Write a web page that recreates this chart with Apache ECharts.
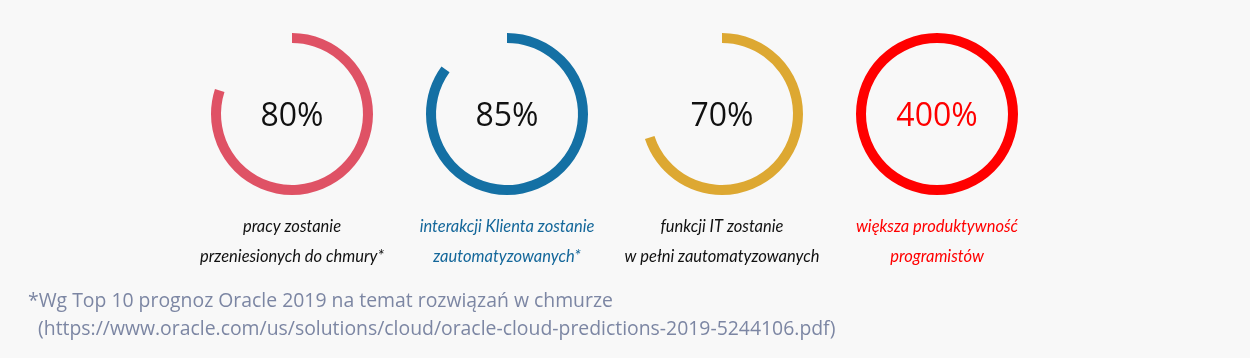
<!DOCTYPE html>
<html>
<head>
<meta charset="utf-8">
<script src="https://cdn.jsdelivr.net/npm/echarts@6/dist/echarts.min.js"></script>
<style>
html,body{margin:0;padding:0;background:#f8f8f8;}
#c{width:1250px;height:358px;}
</style>
</head>
<body>
<div id="c"></div>
<script>
const values = [80, 85, 70, 400];
const valueLabels = ['80%', '85%', '70%', '400%'];
const captionsLine1 = ['pracy zostanie', 'interakcji Klienta zostanie', 'funkcji IT zostanie', 'większa produktywność'];
const captionsLine2 = ['przeniesionych do chmury*', 'zautomatyzowanych*', 'w pełni zautomatyzowanych', 'programistów'];
const ringColors = ['#df5265', '#1470a4', '#dda832', '#ff0000'];
const valueColors = ['#111111', '#111111', '#111111', '#ff0000'];
const captionColors = ['#111111', '#14679a', '#111111', '#ff0000'];
const footnote1 = '*Wg Top 10 prognoz Oracle 2019 na temat rozwiązań w chmurze';
const footnote2 = '  (https://www.oracle.com/us/solutions/cloud/oracle-cloud-predictions-2019-5244106.pdf)';

const centersX = [292, 507, 722, 937];
const centerY = 114;

const chart = echarts.init(document.getElementById('c'), null, {renderer: 'canvas'});
const series = [];
const titles = [];
values.forEach((v, i) => {
  series.push({
    type: 'pie',
    radius: [71, 81],
    center: [centersX[i], centerY],
    startAngle: 90,
    clockwise: true,
    silent: true,
    label: {show: false},
    labelLine: {show: false},
    data: [
      {value: Math.min(v, 100), itemStyle: {color: ringColors[i]}},
      {value: Math.max(0, 100 - v), itemStyle: {color: 'rgba(0,0,0,0)'}}
    ]
  });
  titles.push({
    text: valueLabels[i],
    left: centersX[i],
    top: centerY + 3,
    padding: 0,
    textAlign: 'center',
    textVerticalAlign: 'middle',
    textStyle: {fontFamily: 'Open Sans', fontSize: 32, fontWeight: 'normal', color: valueColors[i]}
  });
  titles.push({
    text: captionsLine1[i],
    left: centersX[i],
    top: 227,
    padding: 0,
    textAlign: 'center',
    textVerticalAlign: 'middle',
    textStyle: {fontFamily: 'Lato', fontStyle: 'italic', fontSize: 16.5, fontWeight: 'normal', color: captionColors[i]}
  });
  titles.push({
    text: captionsLine2[i],
    left: centersX[i],
    top: 257,
    padding: 0,
    textAlign: 'center',
    textVerticalAlign: 'middle',
    textStyle: {fontFamily: 'Lato', fontStyle: 'italic', fontSize: 16.5, fontWeight: 'normal', color: captionColors[i]}
  });
});
titles.push({
  text: footnote1,
  left: 28,
  top: 301,
  padding: 0,
  textVerticalAlign: 'middle',
  textStyle: {fontFamily: 'Open Sans', fontSize: 19.4, fontWeight: 'normal', color: '#7c86a3'}
});
titles.push({
  text: footnote2,
  left: 28,
  top: 329,
  padding: 0,
  textVerticalAlign: 'middle',
  textStyle: {fontFamily: 'Open Sans', fontSize: 19.4, fontWeight: 'normal', color: '#7c86a3'}
});

chart.setOption({
  backgroundColor: '#f8f8f8',
  animation: false,
  title: titles,
  series: series
});
</script>
</body>
</html>
